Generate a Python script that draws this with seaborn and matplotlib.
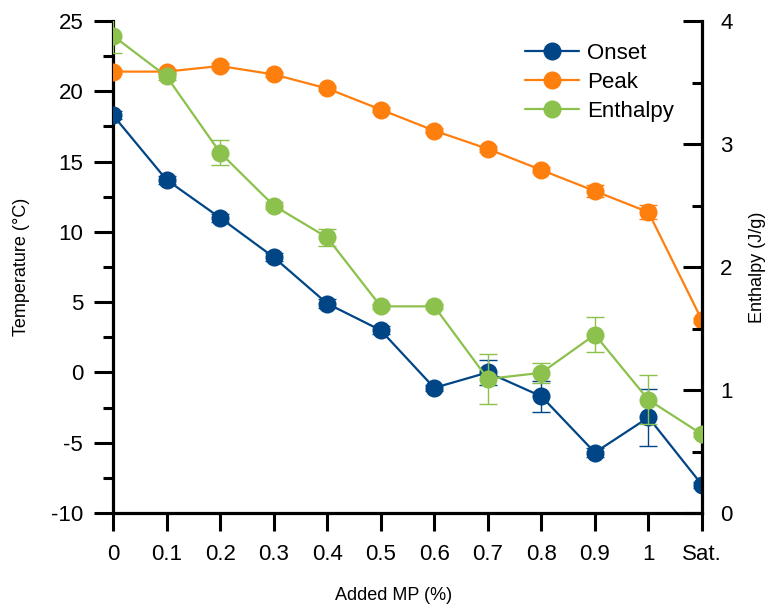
import numpy as np
import pandas as pd
import matplotlib
matplotlib.use("Agg")
import matplotlib.pyplot as plt
import seaborn as sns
from matplotlib.ticker import MultipleLocator

categories = ["0", "0.1", "0.2", "0.3", "0.4", "0.5", "0.6", "0.7", "0.8", "0.9", "1", "Sat."]

onset = [18.3, 13.7, 11.0, 8.2, 4.9, 3.0, -1.1, 0.0, -1.7, -5.7, -3.2, -8.0]
onset_err = [0.3, 0.3, 0.3, 0.3, 0.3, 0.3, 0.2, 0.9, 1.1, 0.3, 2.0, 0.2]

peak = [21.4, 21.4, 21.8, 21.2, 20.2, 18.7, 17.2, 15.9, 14.4, 12.9, 11.4, 3.7]
peak_err = [0.2, 0.2, 0.2, 0.2, 0.2, 0.2, 0.2, 0.2, 0.2, 0.4, 0.5, 0.2]

enthalpy = [3.88, 3.55, 2.93, 2.50, 2.24, 1.68, 1.68, 1.09, 1.14, 1.45, 0.92, 0.64]
enthalpy_err = [0.14, 0.03, 0.10, 0.03, 0.07, 0.02, 0.02, 0.20, 0.08, 0.14, 0.20, 0.02]

c_onset = "#004586"
c_peak = "#FF7F0E"
c_enth = "#8BC14C"

sns.set_style("white")
plt.rcParams["font.family"] = ["Liberation Sans", "DejaVu Sans"]
plt.rcParams["axes.unicode_minus"] = False
plt.rcParams["text.color"] = "black"
plt.rcParams["axes.labelcolor"] = "black"
plt.rcParams["xtick.color"] = "black"
plt.rcParams["ytick.color"] = "black"

pos = np.arange(len(categories))
df = pd.DataFrame({"pos": pos, "Onset": onset, "Peak": peak, "Enthalpy": enthalpy})

fig = plt.figure(figsize=(7.7, 6.08), dpi=100)
ax = fig.add_axes([0.14675, 0.15625, 0.76494, 0.80921])
ax2 = ax.twinx()

line_kw = dict(marker="o", markersize=13, linewidth=1.6, markeredgewidth=0)
err_kw = dict(fmt="none", elinewidth=1, capsize=6.5, capthick=1, zorder=2)

ax.errorbar(pos, onset, yerr=onset_err, ecolor=c_onset, **err_kw)
ax.errorbar(pos, peak, yerr=peak_err, ecolor=c_peak, **err_kw)
sns.lineplot(data=df, x="pos", y="Onset", ax=ax, color=c_onset, label="Onset", zorder=3, **line_kw)
sns.lineplot(data=df, x="pos", y="Peak", ax=ax, color=c_peak, label="Peak", zorder=3, **line_kw)

ax2.errorbar(pos, enthalpy, yerr=enthalpy_err, ecolor=c_enth, **err_kw)
sns.lineplot(data=df, x="pos", y="Enthalpy", ax=ax2, color=c_enth, label="Enthalpy", zorder=3, **line_kw)

ax.set_xlim(0, len(categories) - 1)
ax.set_ylim(-10, 25)
ax2.set_ylim(0, 4)

ax.set_xticks(pos)
ax.set_xticklabels(categories)
ax.yaxis.set_major_locator(MultipleLocator(5))
ax.yaxis.set_minor_locator(MultipleLocator(2.5))
ax2.yaxis.set_major_locator(MultipleLocator(1))
ax2.yaxis.set_minor_locator(MultipleLocator(0.5))

for a in (ax, ax2):
    a.spines["top"].set_visible(False)
    for s in ("left", "right", "bottom"):
        a.spines[s].set_linewidth(2.3)
        a.spines[s].set_color("black")
    a.grid(False)

ax.spines["right"].set_visible(False)
ax2.spines["left"].set_visible(False)
ax2.spines["bottom"].set_visible(False)

ax.tick_params(axis="x", which="major", direction="out", length=13, width=2.2, pad=9, labelsize=16, bottom=True)
ax.tick_params(axis="y", which="major", direction="out", length=13.5, width=2.2, pad=8, labelsize=16, left=True)
ax.tick_params(axis="y", which="minor", direction="out", length=7, width=2.2, left=True)
ax2.tick_params(axis="y", which="major", direction="in", length=13.5, width=2.2, pad=13, labelsize=16, right=True)
ax2.tick_params(axis="y", which="minor", direction="in", length=7, width=2.2, right=True)

ax.set_xlabel("Added MP (%)", fontsize=13, va="center")
ax.set_ylabel("Temperature (°C)", fontsize=13, va="center")
ax2.set_ylabel("Enthalpy (J/g)", fontsize=13, va="center")
ax.xaxis.set_label_coords(0.477, -0.1667)
ax.yaxis.set_label_coords(-0.1545, 0.5)
ax2.yaxis.set_label_coords(1.095, 0.5)

h1, l1 = ax.get_legend_handles_labels()
h2, l2 = ax2.get_legend_handles_labels()
if ax2.get_legend() is not None:
    ax2.get_legend().remove()
ax.legend(h1 + h2, l1 + l2, loc="upper left", bbox_to_anchor=(0.685, 0.973), frameon=False,
          fontsize=16, handlelength=2.4, handletextpad=0.36, labelspacing=0.35, borderaxespad=0)

ax2.set_zorder(ax.get_zorder() + 1)
ax2.patch.set_visible(False)

fig.savefig("out.png", dpi=100)
